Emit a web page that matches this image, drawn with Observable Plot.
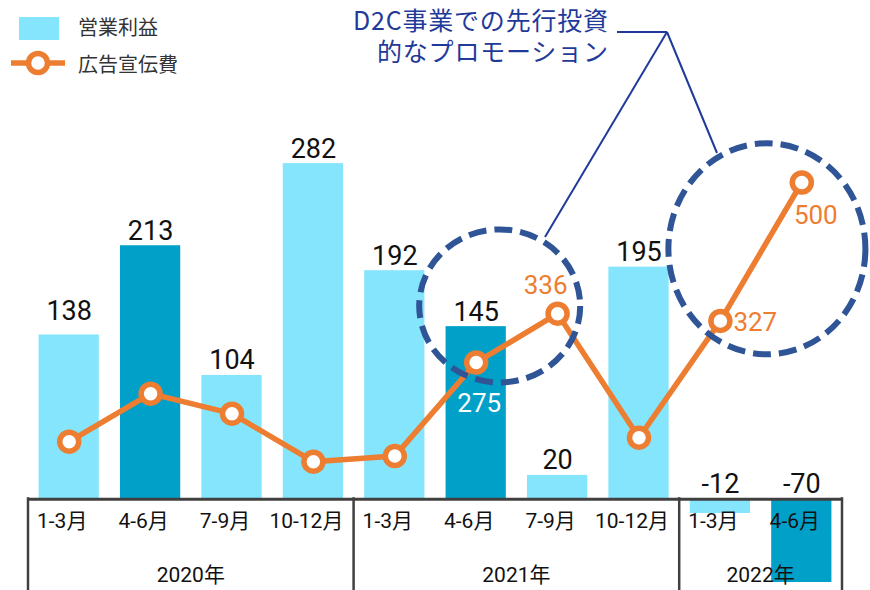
<!DOCTYPE html>
<html>
<head>
<meta charset="utf-8">
<script src="https://cdn.jsdelivr.net/npm/d3@7"></script>
<script src="https://cdn.jsdelivr.net/npm/@observablehq/plot@0.6"></script>
<style>
  body { margin: 0; background: #fff; }
  #wrap { position: relative; width: 870px; height: 590px; overflow: hidden; }
  #legend { position: absolute; left: 0; top: 0; width: 220px; height: 90px; }
  #legend .lbl { position: absolute; left: 78px; font: 20px "Noto Sans CJK JP", sans-serif; color: #333; line-height: 1; }
</style>
</head>
<body>
<div id="wrap">
  <div id="chart"></div>
  <div id="legend"></div>
</div>
<script>
// ---- data ----
const quarters = ["1-3月","4-6月","7-9月","10-12月","1-3月","4-6月","7-9月","10-12月","1-3月","4-6月"];
const years    = ["2020年","2020年","2020年","2020年","2021年","2021年","2021年","2021年","2022年","2022年"];
const operatingProfit = [138, 213, 104, 282, 192, 145, 20, 195, -12, -70];
const adSpend         = [176, 236, 211, 151, 158, 275, 336, 181, 327, 500];
const seriesNames = ["営業利益", "広告宣伝費"];
const annotationLines = ["D2C事業での先行投資", "的なプロモーション"];

// ---- styles ----
const LIGHT = "#84e5fc", DARK = "#00a0c8", ORANGE = "#ed7d31", NAVY = "#2f5597", ANN = "#1f3a99";
const FONT = "Roboto, 'Noto Sans CJK JP', sans-serif";
const Y_DOMAIN = [-70, 330];      // primary axis (operating profit)
const Y2_MAX = 595;               // secondary axis (ad spend) 0..Y2_MAX mapped onto primary domain
const toPrimary = v => Y_DOMAIN[0] + v / Y2_MAX * (Y_DOMAIN[1] - Y_DOMAIN[0]);

const rows = quarters.map((q, i) => ({
  i, q, year: years[i], key: years[i] + " " + q,
  profit: operatingProfit[i], ad: adSpend[i], adY: toPrimary(adSpend[i])
}));

const W = 870, H = 590, ML = 28, MR = 28, MT = 106, MB = 8;

const adLabel = (idx, opts) => Plot.text(rows, Object.assign({
  filter: d => d.i === idx, x: "key", y: "adY", text: d => String(d.ad),
  fontSize: 26, fontFamily: FONT, fill: ORANGE
}, opts));

const profitLabel = (filter, dy) => Plot.text(rows, {
  filter, x: "key", y: d => Math.max(d.profit, 0), text: d => String(d.profit),
  lineAnchor: "bottom", dy, fontSize: 27, fill: "#111"
});

const chart = Plot.plot({
  width: W, height: H,
  marginLeft: ML, marginRight: MR, marginTop: MT, marginBottom: MB,
  style: { fontFamily: FONT, background: "transparent", overflow: "visible" },
  x: { domain: rows.map(d => d.key), paddingInner: 0.26, paddingOuter: 0.13, round: false, axis: null },
  y: { domain: Y_DOMAIN, axis: null },
  color: { type: "identity" },
  marks: [
    Plot.barY(rows, { x: "key", y: "profit", fill: d => d.q === "4-6月" ? DARK : LIGHT }),
    Plot.ruleY([0], { stroke: "#404040", strokeWidth: 3 }),
    profitLabel(d => d.i !== 0, -6),
    profitLabel(d => d.i === 0, -15),
    Plot.text(rows, { x: "key", text: "q", frameAnchor: "bottom", dx: -7, dy: -55, fontSize: 21, fill: "#111" }),
    Plot.line(rows, { x: "key", y: "adY", stroke: ORANGE, strokeWidth: 5.5 }),
    Plot.dot(rows, { x: "key", y: "adY", r: 9.5, fill: "white", stroke: ORANGE, strokeWidth: 5.5 }),
    adLabel(5, { dx: 3, dy: 41, fill: "white" }),
    adLabel(6, { dx: -12, dy: -28 }),
    adLabel(8, { dx: 13, dy: 2, textAnchor: "start" }),
    adLabel(9, { dx: 14, dy: 33 })
  ]
});
document.getElementById("chart").appendChild(chart);

// ---- group frame, year labels, annotations (positioned via Plot's scales) ----
const svg = d3.select(chart);
const xs = chart.scale("x"), ys = chart.scale("y");
const bw = xs.bandwidth, step = xs.step || (bw / (1 - 0.26));
const x0 = ys.apply(0);
const bandLeft = k => xs.apply(k) - (step - bw) / 2;
const bandRight = k => xs.apply(k) + bw + (step - bw) / 2;
const g = svg.append("g");
const yearGroups = Array.from(d3.group(rows, d => d.year), ([year, rs]) => ({ year, first: rs[0].key, last: rs[rs.length - 1].key }));
const bounds = [];
yearGroups.forEach((grp, gi) => {
  const l = bandLeft(grp.first), r = bandRight(grp.last);
  bounds.push(l); if (gi === yearGroups.length - 1) bounds.push(r);
  g.append("text").attr("x", (l + r) / 2).attr("y", H - MB - 7).attr("text-anchor", "middle")
    .attr("dy", "0.32em").attr("font-size", 21).attr("font-family", FONT).attr("fill", "#111").text(grp.year);
});
bounds.forEach(bx => {
  g.append("line").attr("x1", bx).attr("x2", bx).attr("y1", x0 - 1.5).attr("y2", H)
    .attr("stroke", "#404040").attr("stroke-width", 2.5);
});

// dashed highlight ellipses
const hl = [
  { key: rows[5].key, dx: 24, v: 162, rx: 80.5, ry: 76.5 },
  { key: rows[8].key, dx: 47, v: 210, rx: 98.5, ry: 105.5 }
];
hl.forEach(h => {
  g.append("ellipse").attr("cx", xs.apply(h.key) + bw / 2 + h.dx).attr("cy", ys.apply(h.v))
    .attr("rx", h.rx).attr("ry", h.ry).attr("fill", "none").attr("stroke", NAVY)
    .attr("stroke-width", 6).attr("stroke-dasharray", "18 8");
});

// annotation text + leader lines
const ann = g.append("g");
const annPos = [[353, 21], [377, 52]];
annotationLines.forEach((t, i) => {
  ann.append("text").attr("x", annPos[i][0]).attr("y", annPos[i][1]).attr("dy", "0.35em")
    .attr("text-anchor", "start").attr("font-size", 25).attr("letter-spacing", "0.8px")
    .attr("font-family", "'Noto Sans CJK JP', sans-serif")
    .attr("fill", ANN).text(t);
});
const jx = 667, jy = 32;
const leaders = [[617, 32, jx, jy], [jx, jy, 545, 237], [jx, jy, 717, 153]];
leaders.forEach(([a, b, c, d]) => {
  ann.append("line").attr("x1", a).attr("y1", b).attr("x2", c).attr("y2", d)
    .attr("stroke", ANN).attr("stroke-width", 2);
});

// ---- legend ----
const leg = document.getElementById("legend");
leg.innerHTML = `
<svg width="80" height="90" style="position:absolute;left:0;top:0">
  <rect x="19" y="17" width="40" height="23" fill="${LIGHT}"/>
  <line x1="11" x2="65" y1="63" y2="63" stroke="${ORANGE}" stroke-width="5.5"/>
  <circle cx="38" cy="63" r="9.5" fill="white" stroke="${ORANGE}" stroke-width="5.5"/>
</svg>
<div class="lbl" style="top:17px">${seriesNames[0]}</div>
<div class="lbl" style="top:54px">${seriesNames[1]}</div>`;
</script>
</body>
</html>
